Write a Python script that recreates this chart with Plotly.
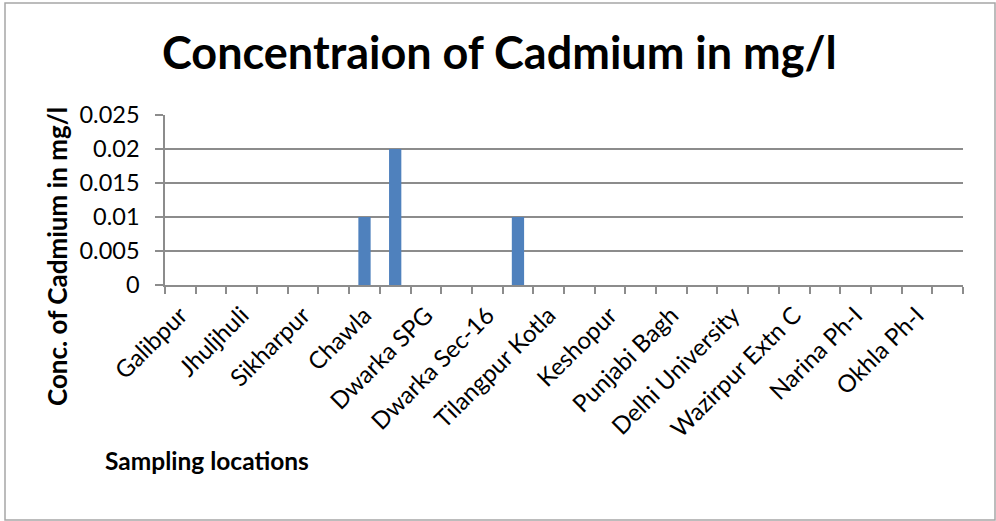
import plotly.graph_objects as go

# Sampling locations (26 sites; the axis labels every other one)
site_labels = [
    "Galibpur", "Jhuljhuli", "Sikharpur", "Chawla", "Dwarka SPG",
    "Dwarka Sec-16", "Tilangpur Kotla", "Keshopur", "Punjabi Bagh",
    "Delhi University", "Wazirpur Extn C", "Narina Ph-I", "Okhla Ph-I",
]
site_index = list(range(26))
label_index = list(range(0, 26, 2))

# Cadmium concentration (mg/l) at each site
cadmium = [0, 0, 0, 0, 0, 0, 0.01, 0.02, 0, 0, 0, 0.01, 0,
           0, 0, 0, 0, 0, 0, 0, 0, 0, 0, 0, 0, 0]

y_ticks = [0, 0.005, 0.01, 0.015, 0.02, 0.025]
y_tick_text = ["0", "0.005", "0.01", "0.015", "0.02", "0.025"]

W, H = 996, 521
L, R, T, B = 165, 33, 115, 236
pw, ph = W - L - R, H - T - B

def px(x):
    return (x - L) / pw

def py(y):
    return (H - B - y) / ph

FONT = "Lato"
GRID = "#8c8c8c"

fig = go.Figure(go.Bar(
    x=site_index, y=cadmium, width=0.4,
    marker=dict(color="#4f81bd", line=dict(width=0)),
))

fig.update_layout(
    width=W, height=H,
    margin=dict(l=L, r=R, t=T, b=B, pad=0),
    paper_bgcolor="white", plot_bgcolor="white",
    showlegend=False,
    font=dict(family=FONT, color="black"),
    xaxis=dict(
        range=[-0.5, 25.5],
        tickvals=label_index, ticktext=site_labels,
        tickangle=-45, ticks="",
        tickfont=dict(size=24, family=FONT, color="black"),
        ticklabelstandoff=5,
        showgrid=False, zeroline=False,
        showline=True, linecolor=GRID, linewidth=1.5,
        minor=dict(tick0=-0.5, dtick=1, ticks="outside", ticklen=7,
                   tickcolor=GRID, tickwidth=1.5, showgrid=False),
    ),
    yaxis=dict(
        range=[0, 0.025],
        tickvals=y_ticks, ticktext=y_tick_text,
        ticks="outside", ticklen=8, tickcolor=GRID, tickwidth=1.5,
        tickfont=dict(size=23.5, family=FONT, color="black"),
        ticklabelstandoff=11,
        showgrid=True, gridcolor=GRID, gridwidth=1.5,
        zeroline=False,
        showline=True, linecolor=GRID, linewidth=1.5,
    ),
    shapes=[dict(
        type="rect", xref="paper", yref="paper",
        x0=px(5), x1=px(995), y0=py(3), y1=py(520),
        line=dict(color="#a6a6a6", width=1.5), layer="below",
    )],
    annotations=[
        dict(text="<b>Concentraion of Cadmium in mg/l</b>",
             xref="paper", yref="paper", x=px(499), y=py(52),
             xanchor="center", yanchor="middle", showarrow=False,
             font=dict(size=45, family=FONT, color="black")),
        dict(text="<b>Conc. of Cadmium in mg/l</b>",
             xref="paper", yref="paper", x=px(57), y=py(257),
             xanchor="center", yanchor="middle", showarrow=False,
             textangle=-90,
             font=dict(size=26, family=FONT, color="black")),
        dict(text="<b>Sampling locations</b>",
             xref="paper", yref="paper", x=px(103), y=py(460),
             xanchor="left", yanchor="middle", showarrow=False,
             font=dict(size=24.5, family=FONT, color="black")),
    ],
)

fig.write_html("out.html")
